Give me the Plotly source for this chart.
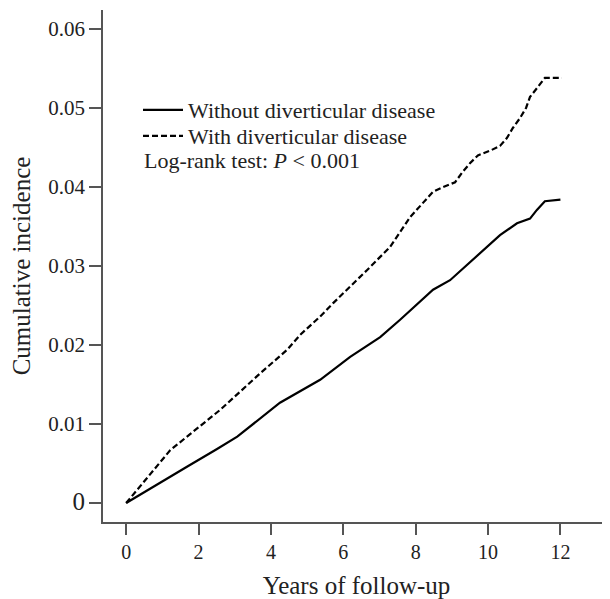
import plotly.graph_objects as go

# Data
years_without = [0, 1.0, 1.68, 2.5, 3.07, 4.25, 5.36, 6.19, 7.02, 7.57, 8.48, 8.95, 9.42,
                 9.86, 10.33, 10.8, 11.16, 11.35, 11.57, 12.0]
inc_without = [0, 0.0028, 0.0046, 0.0068, 0.0084, 0.0127, 0.0156, 0.0185, 0.021, 0.0232,
               0.027, 0.0282, 0.0301, 0.032, 0.0339, 0.0354, 0.036, 0.0371, 0.0382, 0.0384]

years_with = [0, 1.22, 2.6, 3.7, 4.45, 4.81, 5.36, 5.72, 6.66, 7.29, 7.85, 8.2, 8.48, 8.76,
              9.09, 9.28, 9.5, 9.72, 10.06, 10.33, 10.52, 10.69, 10.88, 11.05, 11.16,
              11.35, 11.57, 12.04]
inc_with = [0, 0.0067, 0.0118, 0.0164, 0.0194, 0.0213, 0.0236, 0.0253, 0.0295, 0.0324,
            0.0362, 0.038, 0.0394, 0.040, 0.0406, 0.0418, 0.043, 0.044, 0.0446, 0.0452,
            0.0462, 0.0475, 0.0487, 0.050, 0.0514, 0.0525, 0.0538, 0.0538]

x_ticks = [0, 2, 4, 6, 8, 10, 12]
y_ticks = [0, 0.01, 0.02, 0.03, 0.04, 0.05, 0.06]
y_tick_labels = ['<span style="font-size:25px">0</span>', "0.01", "0.02", "0.03", "0.04", "0.05", "0.06"]

FONT = "Liberation Serif"
TXT = "#222"
LEG_SIZE = 22

fig = go.Figure()
fig.add_trace(go.Scatter(x=years_without, y=inc_without, mode="lines",
                         name="Without diverticular disease", legend="legend",
                         line=dict(color="black", width=2.2)))
fig.add_trace(go.Scatter(x=years_with, y=inc_with, mode="lines",
                         name="With diverticular disease", legend="legend2",
                         line=dict(color="black", width=2.2, dash="6px,3px")))

# The page body has an 8px margin, so the figure is sized/placed to compensate
OFF = 8
W, H = 610 - OFF, 599 - OFF
L, R, T, B = 103 - OFF, 0, 10 - OFF, 77
PW, PH = W - L - R, H - T - B


def px(xp):
    return (xp - 103) / PW


def py(yp):
    return (522 - yp) / PH


leg_common = dict(xanchor="left", yanchor="middle", bgcolor="rgba(0,0,0,0)",
                  font=dict(family=FONT, size=LEG_SIZE, color=TXT), itemwidth=40)

fig.update_layout(
    width=W, height=H,
    margin=dict(l=L, r=R, t=T, b=B, autoexpand=False),
    paper_bgcolor="white", plot_bgcolor="white",
    font=dict(family=FONT, size=19, color=TXT),
    showlegend=True,
    legend=dict(x=px(138), y=py(110), **leg_common),
    legend2=dict(x=px(138), y=py(136), **leg_common),
    xaxis=dict(range=[-0.64, 13.37], tickmode="array", tickvals=x_ticks,
               automargin=False,
               showgrid=False, zeroline=False, showline=True, linecolor="#555",
               linewidth=1.5, ticks="outside", ticklen=11, tickcolor="#555", tickwidth=1.5,
               tickfont=dict(family=FONT, size=20, color=TXT),
               title=dict(text="Years of follow-up", font=dict(family=FONT, size=25, color=TXT),
                          standoff=21)),
    yaxis=dict(range=[-0.0024, 0.0624], tickmode="array", tickvals=y_ticks,
               ticktext=y_tick_labels, automargin=False,
               showgrid=False, zeroline=False, showline=True, linecolor="#555",
               linewidth=1.5, ticks="outside", ticklen=12, tickcolor="#555", tickwidth=1.5,
               tickfont=dict(family=FONT, size=21, color=TXT),
               title=dict(text="Cumulative incidence", font=dict(family=FONT, size=25, color=TXT),
                          standoff=14)),
)

fig.add_annotation(text="Log-rank test: <i>P</i> < 0.001", xref="paper", yref="paper",
                   x=px(142), y=py(160), xanchor="left", yanchor="middle",
                   showarrow=False, font=dict(family=FONT, size=LEG_SIZE, color=TXT))

fig.write_html("out.html")
